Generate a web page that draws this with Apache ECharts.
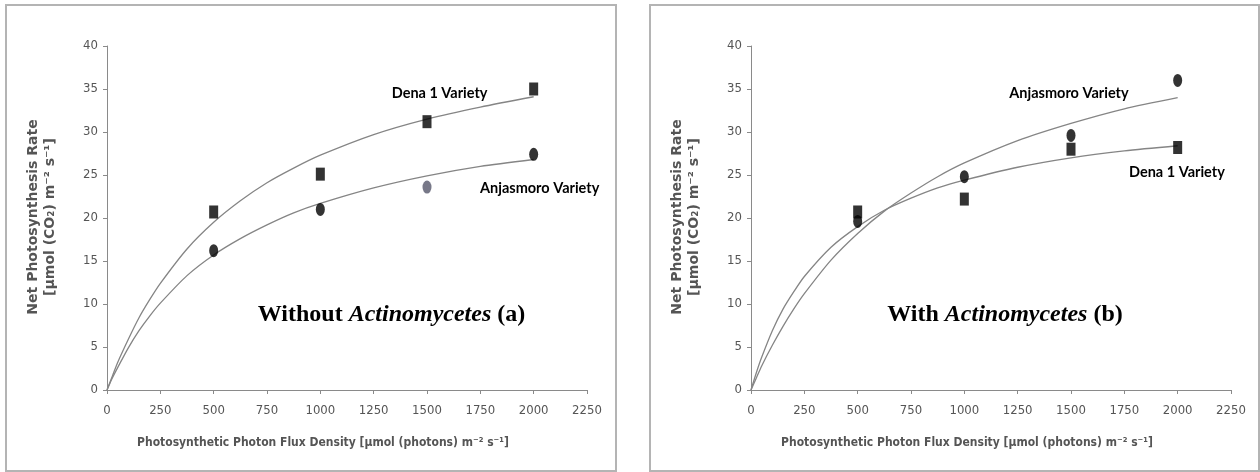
<!DOCTYPE html>
<html><head><meta charset="utf-8">
<script src="https://cdn.jsdelivr.net/npm/echarts@6/dist/echarts.min.js"></script>
<style>html,body{margin:0;padding:0;background:#fff}#c{width:1260px;height:472px}</style>
</head><body><div id="c"></div>
<script>
// ---- data ----
const xTickMin = 0, xTickMax = 2250, xTickStep = 250;
const yTickMin = 0, yTickMax = 40, yTickStep = 5;

const curveX = [0, 25, 50, 100, 150, 200, 250, 375, 500, 625, 750, 875, 1000, 1250, 1500, 1750, 2000];
const dena1WithoutFit     = [0, 1.6, 3.2, 5.9, 8.4, 10.5, 12.4, 16.4, 19.5, 22.0, 24.1, 25.8, 27.3, 29.7, 31.5, 32.9, 34.1];
const anjasmoroWithoutFit = [0, 1.4, 2.6, 4.9, 6.9, 8.6, 10.1, 13.3, 15.7, 17.6, 19.2, 20.6, 21.7, 23.5, 24.9, 26.0, 26.8];
const dena1WithFit        = [0, 2.0, 3.8, 6.9, 9.4, 11.4, 13.2, 16.6, 19.0, 20.9, 22.3, 23.5, 24.4, 25.9, 27.0, 27.8, 28.4];
const anjasmoroWithFit    = [0, 1.4, 2.8, 5.2, 7.4, 9.4, 11.2, 15.1, 18.2, 20.8, 22.9, 24.8, 26.4, 29.0, 31.0, 32.7, 34.0];

const lightLevels = [500, 1000, 1500, 2000];
const dena1WithoutObs     = [20.7, 25.1, 31.2, 35.0];
const anjasmoroWithoutObs = [16.2, 21.0, 23.6, 27.4];
const dena1WithObs        = [20.7, 22.2, 28.0, 28.2];
const anjasmoroWithObs    = [19.6, 24.8, 29.6, 36.0];

const xTitle = 'Photosynthetic Photon Flux Density [µmol (photons) m⁻² s⁻¹]';
const yTitle1 = 'Net Photosynthesis Rate';
const yTitle2 = '[µmol (CO₂) m⁻² s⁻¹]';
const panelLabels = ['Without', 'With'];
const panelLetters = ['(a)', '(b)'];
const varietyNames = ['Dena 1 Variety', 'Anjasmoro Variety'];

// ---- build chart ----
const chart = echarts.init(document.getElementById('c'), null, {renderer: 'canvas'});
const axisFont = '"Liberation Sans Narrow", "DejaVu Sans Condensed", "Liberation Sans", sans-serif';
const grids = [
  {left: 107, top: 46, width: 480, height: 344},
  {left: 751, top: 46, width: 480, height: 344}
];
const lbl = (m) => ({color: '#555', fontFamily: axisFont, fontSize: 13, margin: m, formatter: (v) => String(v)});
function xAx(i) {
  return {gridIndex: i, type: 'value', min: xTickMin, max: xTickMax, interval: xTickStep,
    axisLine: {show: true, lineStyle: {color: '#8a8a8a', width: 1}},
    axisTick: {show: true, length: 4, lineStyle: {color: '#8a8a8a'}},
    splitLine: {show: false}, axisLabel: lbl(14)};
}
function yAx(i) {
  return {gridIndex: i, type: 'value', min: yTickMin, max: yTickMax, interval: yTickStep,
    axisLine: {show: true, lineStyle: {color: '#8a8a8a', width: 1}},
    axisTick: {show: true, length: 4, lineStyle: {color: '#8a8a8a'}},
    splitLine: {show: false}, axisLabel: lbl(9)};
}
function fitLine(i, ys) {
  return {type: 'line', xAxisIndex: i, yAxisIndex: i, data: curveX.map((x, k) => [x, ys[k]]),
    smooth: 0.25, showSymbol: false, symbol: 'none',
    lineStyle: {color: '#858585', width: 1.3}, z: 2, silent: true};
}
function obs(i, ys, sym, special) {
  return {type: 'scatter', xAxisIndex: i, yAxisIndex: i,
    data: lightLevels.map((x, k) => {
      const d = {value: [x, ys[k]]};
      if (special === k) d.itemStyle = {color: '#55566a'};
      return d;
    }),
    symbol: sym, symbolSize: [9, 13], itemStyle: {color: '#000'}, z: 3, silent: true};
}

const graphic = [];
[[6, 610], [650, 609]].forEach(([x, w]) => {
  graphic.push({type: 'rect', shape: {x: x, y: 5, width: w, height: 466},
    style: {fill: 'none', stroke: '#b4b4b4', lineWidth: 2}});
});
grids.forEach((g, i) => {
  const ax = g.left;
  graphic.push({type: 'text', x: ax - 74, y: 217, rotation: Math.PI / 2,
    style: {text: yTitle1, fill: '#555', font: 'bold 14px "DejaVu Sans"', align: 'center', verticalAlign: 'middle'}});
  graphic.push({type: 'text', x: ax - 57, y: 217, rotation: Math.PI / 2,
    style: {text: yTitle2, fill: '#555', font: 'bold 14px "DejaVu Sans"', align: 'center', verticalAlign: 'middle'}});
  graphic.push({type: 'text', x: ax + 216, y: 443,
    style: {text: xTitle, fill: '#555', font: 'bold 12px ' + axisFont, align: 'center', verticalAlign: 'middle'}});
  graphic.push({type: 'text', x: i === 0 ? 391.5 : 1005, y: 315,
    style: {text: '{n|' + panelLabels[i] + ' }{i|Actinomycetes}{n| ' + panelLetters[i] + '}',
      align: 'center', verticalAlign: 'middle',
      rich: {n: {fontFamily: 'Liberation Serif', fontWeight: 'bold', fontSize: 24, fill: '#000', color: '#000'},
             i: {fontFamily: 'Liberation Serif', fontWeight: 'bold', fontStyle: 'italic', fontSize: 24, fill: '#000', color: '#000'}}}});
});
const lblFont = 'bold 14.5px Lato, "Open Sans", sans-serif';
[[391.7, 93, 0], [480, 188, 1], [1129, 172.5, 0], [1009.3, 93, 1]].forEach(([x, y, v]) => {
  graphic.push({type: 'text', x: x, y: y,
    style: {text: varietyNames[v], fill: '#000', font: lblFont, align: 'left', verticalAlign: 'middle'}});
});

chart.setOption({
  animation: false,
  backgroundColor: '#fff',
  grid: grids,
  xAxis: [xAx(0), xAx(1)],
  yAxis: [yAx(0), yAx(1)],
  series: [
    fitLine(0, dena1WithoutFit), fitLine(0, anjasmoroWithoutFit),
    fitLine(1, dena1WithFit), fitLine(1, anjasmoroWithFit),
    obs(0, dena1WithoutObs, 'rect'), obs(0, anjasmoroWithoutObs, 'circle', 2),
    obs(1, dena1WithObs, 'rect'), obs(1, anjasmoroWithObs, 'circle')
  ],
  graphic: graphic
});
</script></body></html>
